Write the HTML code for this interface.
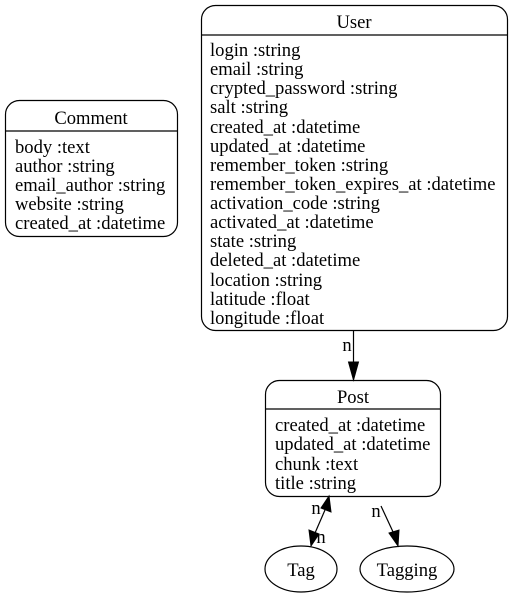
<!DOCTYPE html>
<html><head><style>
html,body{margin:0;padding:0;background:#fff;}
svg{display:block;}
text{font-family:"Liberation Serif",serif;font-size:18.6px;fill:#000;}
</style></head><body>
<svg width="512" height="597" viewBox="0 0 512 597" xmlns="http://www.w3.org/2000/svg">
<g fill="none" stroke="#000" stroke-width="1.2">
<rect x="5.5" y="100.5" width="172" height="136" rx="14"/>
<line x1="5.5" y1="131" x2="177.5" y2="131"/>
<rect x="201.5" y="5.5" width="306" height="325" rx="14"/>
<line x1="201.5" y1="35" x2="507.5" y2="35"/>
<rect x="265.5" y="380.5" width="175" height="116" rx="14"/>
<line x1="265.5" y1="409" x2="440.5" y2="409"/>
<ellipse cx="301" cy="569" rx="36" ry="23"/>
<ellipse cx="407" cy="569" rx="47" ry="23"/>
<line x1="353.5" y1="331" x2="353.5" y2="364"/>
<line x1="325" y1="510" x2="315" y2="533"/>
<line x1="381" y1="506" x2="394" y2="534"/>
</g>
<g fill="#000" stroke="#000">
<polygon points="348.5,362 358.5,362 353.5,380"/>
<polygon points="329,496 331,512 321,508"/>
<polygon points="311,546 309,530 319,534"/>
<polygon points="398,546 389,533 399,530"/>
</g>
<g transform="translate(0,1)">
<text x="91" y="123" text-anchor="middle">Comment</text>
<text x="15" y="152">body :text</text>
<text x="15" y="171">author :string</text>
<text x="15" y="190">email_author :string</text>
<text x="15" y="209">website :string</text>
<text x="15" y="228">created_at :datetime</text>
<text x="354" y="27" text-anchor="middle">User</text>
<text x="210" y="55">login :string</text>
<text x="210" y="74">email :string</text>
<text x="210" y="93">crypted_password :string</text>
<text x="210" y="112">salt :string</text>
<text x="210" y="132">created_at :datetime</text>
<text x="210" y="151">updated_at :datetime</text>
<text x="210" y="170">remember_token :string</text>
<text x="210" y="189">remember_token_expires_at :datetime</text>
<text x="210" y="208">activation_code :string</text>
<text x="210" y="227">activated_at :datetime</text>
<text x="210" y="246">state :string</text>
<text x="210" y="265">deleted_at :datetime</text>
<text x="210" y="285">location :string</text>
<text x="210" y="304">latitude :float</text>
<text x="210" y="323">longitude :float</text>
<text x="347" y="350" text-anchor="middle">n</text>
<text x="353" y="402" text-anchor="middle">Post</text>
<text x="275" y="430">created_at :datetime</text>
<text x="275" y="449">updated_at :datetime</text>
<text x="275" y="469">chunk :text</text>
<text x="275" y="488">title :string</text>
<text x="316" y="513" text-anchor="middle">n</text>
<text x="321" y="542" text-anchor="middle">n</text>
<text x="376" y="516" text-anchor="middle">n</text>
<text x="301" y="575" text-anchor="middle">Tag</text>
<text x="407" y="575" text-anchor="middle">Tagging</text>
</g>
</svg>
</body></html>
